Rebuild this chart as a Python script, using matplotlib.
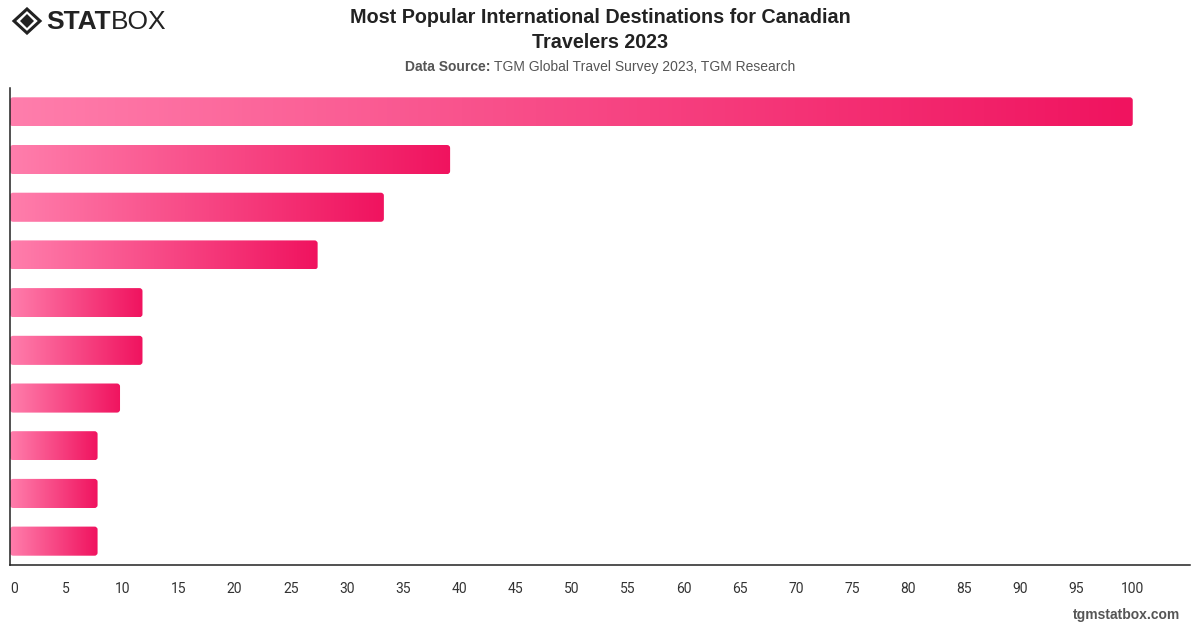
import numpy as np
import matplotlib
matplotlib.use('Agg')
import matplotlib.pyplot as plt
from matplotlib.colors import LinearSegmentedColormap
from matplotlib.patches import FancyBboxPatch, Polygon

# data (labels are not shown in the original)
ranks = ['1', '2', '3', '4', '5', '6', '7', '8', '9', '10']
values = [100, 39.2, 33.3, 27.4, 11.8, 11.8, 9.8, 7.8, 7.8, 7.8]
xticks = list(range(0, 105, 5))

title = 'Most Popular International Destinations for Canadian\nTravelers 2023'
source_label = 'Data Source:'
source_text = 'TGM Global Travel Survey 2023, TGM Research'

plt.rcParams['font.family'] = ['Liberation Sans', 'DejaVu Sans']

W, H = 1200, 628
fig = plt.figure(figsize=(W / 100, H / 100), dpi=100)
ax = fig.add_axes([10 / W, 1 - 565 / H, 1180 / W, 477 / H])

ypos = np.arange(len(values))
bars = ax.barh(ypos, values, height=0.61, color='none', edgecolor='none')

# gradient fill, clipped to a rounded box for each bar
cmap = LinearSegmentedColormap.from_list('pink', ['#FF7EAC', '#F0135F'])
grad = np.linspace(0, 1, 256).reshape(1, -1)
for b in bars:
    x0, y0, w, h = b.get_x(), b.get_y(), b.get_width(), b.get_height()
    box = FancyBboxPatch((x0, y0), w, h,
                         boxstyle='round,pad=0,rounding_size=0.28',
                         mutation_aspect=0.22, facecolor='none',
                         edgecolor='none', transform=ax.transData)
    ax.add_patch(box)
    im = ax.imshow(grad, cmap=cmap, aspect='auto',
                   extent=(x0, x0 + w, y0 + h, y0), zorder=2)
    im.set_clip_path(box)

ax.set_xlim(0, 105.1)
ax.set_ylim(len(values) - 0.5, -0.5)

for side in ['top', 'right']:
    ax.spines[side].set_visible(False)
for side in ['left', 'bottom']:
    ax.spines[side].set_color('#222222')
    ax.spines[side].set_linewidth(1.1)
ax.set_yticks([])
ax.set_xticks(xticks)
ax.set_xticklabels([str(t) for t in xticks], family=['Roboto', 'DejaVu Sans'])
ax.tick_params(axis='x', length=0, pad=12.5, labelsize=10, labelcolor='#333333')
ax.get_xticklabels()[0].set_horizontalalignment('left')

# title and source
fig.text(0.5, 1 - 30 / H, title, ha='center', va='center', fontsize=14.2,
         fontweight='bold', color='#222222', linespacing=1.35)
t1 = fig.text(0, 1 - 67 / H, source_label + ' ', ha='left', va='center',
              fontsize=10, fontweight='bold', color='#555555')
t2 = fig.text(0, 1 - 67 / H, source_text, ha='left', va='center',
              fontsize=10, color='#555555')
renderer = fig.canvas.get_renderer()
w1 = t1.get_window_extent(renderer).width
w2 = t2.get_window_extent(renderer).width
start = 600 - (w1 + w2) / 2
t1.set_x(start / W)
t2.set_x((start + w1) / W)

# logo
def px(x, y):
    return (x / W, 1 - y / H)

outer = [px(27, 9), px(40, 21), px(27, 33), px(14, 21)]
inner = [px(27, 14), px(34, 21), px(27, 28), px(20, 21)]
fig.add_artist(Polygon(outer, closed=True, facecolor='none', edgecolor='#222222',
                       linewidth=2.2, transform=fig.transFigure))
fig.add_artist(Polygon(inner, closed=True, facecolor='#222222', edgecolor='none',
                       transform=fig.transFigure))
fig.text(46 / W, 1 - 22 / H, 'STAT', ha='left', va='center', fontsize=19,
         fontweight='heavy', color='#222222')
fig.text(111 / W, 1 - 22 / H, 'BOX', ha='left', va='center', fontsize=19,
         fontweight='light', color='#222222')

# footer
fig.text(1180 / W, 1 - 615 / H, 'tgmstatbox.com', ha='right', va='center',
         fontsize=10, fontweight='bold', color='#555555')

fig.savefig('out.png', dpi=100)
